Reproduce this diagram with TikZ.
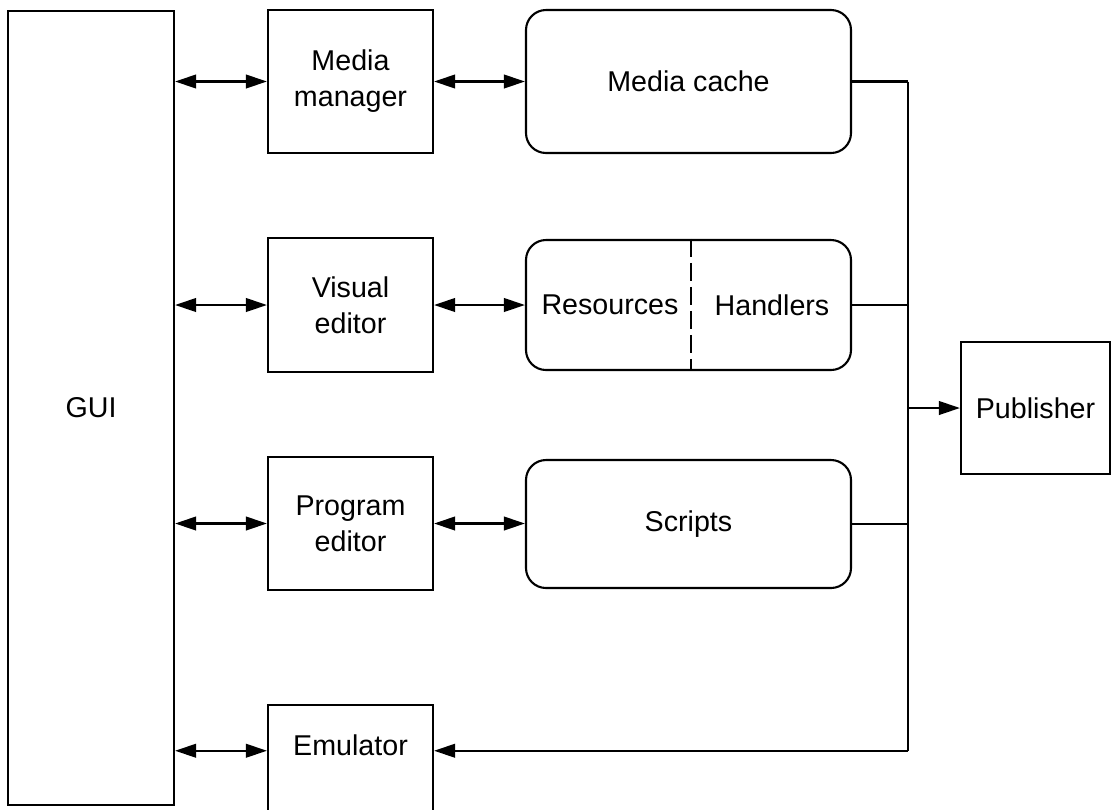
\documentclass[tikz,border=0pt]{standalone}
\usepackage{fontspec}
\setmainfont{Liberation Sans}
\usetikzlibrary{positioning,arrows.meta,shapes}
\tikzset {
    style A/.style={
        fill=white,
        draw=black,
        line width=1.2pt,
        rectangle, % Set the shape as a rectangle
        minimum width=3.3cm,
        inner sep=0pt,
        align=center,
    },
    style B/.style={
        fill=white,
        draw=black,
        line width=1.2pt,
        rectangle, % Set the shape as a rectangle
        rounded corners=.4cm,
        minimum width=6.5cm,
        inner sep=0pt,
        align=center,
    },
    style L/.style={
        draw=black,
        line width=1.35pt,
    },
}

\begin{document}
\begin{tikzpicture}
        [font=\fontsize{16.3}{20.4}\selectfont, >={Triangle[length=0.42cm,width=0.27cm]}]

        \useasboundingbox (0,0) rectangle (22.4,-16.18);

        % left column
        \node[style A, minimum width=3.32cm, minimum height=15.88cm] (gui) at (1.82,-8.16) {GUI};

        % editors
        \node[style A, minimum height=2.86cm] (mm) at (7.01,-1.63) {Media\\manager};
        \node[style A, minimum height=2.68cm] (ve) at (7.01,-6.1) {Visual\\editor};
        \node[style A, minimum height=2.66cm] (pe) at (7.01,-10.47) {Program\\editor};
        \node[style A, minimum height=2.2cm, text depth=0.6cm] (emu) at (7.01,-15.2) {Emulator};

        % stores
        \node[style B, minimum height=2.86cm] (mc) at (13.77,-1.63) {Media cache};
        \node[style B, minimum height=2.6cm] (rh) at (13.77,-6.1) {};
        \node (res) at ([xshift=-1.57cm]rh.center) {Resources};
        \node (han) at ([xshift=1.67cm]rh.center) {Handlers};
        \draw[style L, dash pattern=on 0.36cm off 0.12cm] ([xshift=0.05cm]rh.north) -- ([xshift=0.05cm]rh.south);
        \node[style B, minimum height=2.56cm] (sc) at (13.77,-10.48) {Scripts};

        \node[style A, minimum width=2.98cm, minimum height=2.64cm] (pub) at (20.71,-8.16) {Publisher};

        % bus
        \path (mc.east) ++(1.12,0) coordinate (busT);
        \coordinate (busB) at (busT |- emu.mid east);
        \draw[style L] (busT) -- (busB);
        \draw[style L] (mc.east) -- (busT);
        \draw[style L] (rh.east) -- (rh.east -| busT);
        \draw[style L] (sc.east) -- (sc.east -| busT);
        \draw[style L, ->] (busT |- pub.west) -- (pub.west);
        \draw[style L, ->] (busB) -- (emu.mid east);

        % links
        \draw[style L, <->] (gui.east |- mm.west) -- (mm.west);
        \draw[style L, <->] (gui.east |- ve.west) -- (ve.west);
        \draw[style L, <->] (gui.east |- pe.west) -- (pe.west);
        \draw[style L, <->] (gui.east |- emu.mid west) -- (emu.mid west);
        \draw[style L, <->] (mm.east) -- (mc.west);
        \draw[style L, <->] (ve.east) -- (rh.west);
        \draw[style L, <->] (pe.east) -- (pe.east -| sc.west);

    \end{tikzpicture}
\end{document}
